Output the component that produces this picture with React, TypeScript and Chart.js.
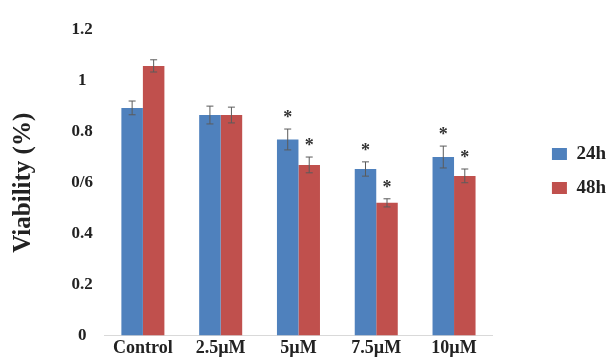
import React, { useEffect, useRef } from 'react';
import { Chart, registerables } from 'chart.js';

Chart.register(...registerables);

const FONT = '"Liberation Serif", "Times New Roman", serif';

const categories = ['Control', '2.5µM', '5µM', '7.5µM', '10µM'];
const seriesNames = ['24h', '48h'];
const values24h = [0.894, 0.866, 0.77, 0.654, 0.701];
const values48h = [1.059, 0.866, 0.67, 0.521, 0.627];
const errors24h = [0.027, 0.035, 0.041, 0.028, 0.043];
const errors48h = [0.024, 0.031, 0.031, 0.016, 0.027];
const significant24h = [false, false, true, true, true];
const significant48h = [false, false, true, true, true];
const yTickValues = [0, 0.2, 0.4, 0.6, 0.8, 1, 1.2];
const yTickLabels = ['0', '0.2', '0.4', '0/6', '0.8', '1', '1.2'];

const seriesColors = ['#4F81BD', '#C0504D'];
const errorSets = [errors24h, errors48h];
const sigSets = [significant24h, significant48h];

const errorBarPlugin = {
  id: 'errorBars',
  afterDatasetsDraw(chart: any) {
    const ctx = chart.ctx;
    const yScale = chart.scales.y;
    chart.data.datasets.forEach((ds: any, di: number) => {
      const meta = chart.getDatasetMeta(di);
      meta.data.forEach((bar: any, i: number) => {
        const v = ds.data[i] as number;
        const e = errorSets[di][i];
        const x = bar.x;
        const yTop = yScale.getPixelForValue(v + e);
        const yBot = yScale.getPixelForValue(v - e);
        ctx.save();
        ctx.strokeStyle = '#5b5b5b';
        ctx.lineWidth = 1;
        ctx.beginPath();
        ctx.moveTo(x, yTop);
        ctx.lineTo(x, yBot);
        ctx.moveTo(x - 3.5, yTop);
        ctx.lineTo(x + 3.5, yTop);
        ctx.moveTo(x - 3.5, yBot);
        ctx.lineTo(x + 3.5, yBot);
        ctx.stroke();
        if (sigSets[di][i]) {
          ctx.fillStyle = '#333333';
          ctx.font = `bold 18px ${FONT}`;
          ctx.textAlign = 'center';
          ctx.textBaseline = 'alphabetic';
          ctx.fillText('*', x, yTop - 6);
        }
        ctx.restore();
      });
    });
  },
};

export default function App() {
  const canvasRef = useRef<HTMLCanvasElement | null>(null);

  useEffect(() => {
    if (!canvasRef.current) return;
    const chart = new Chart(canvasRef.current, {
      type: 'bar',
      data: {
        labels: categories,
        datasets: [
          {
            label: seriesNames[0],
            data: values24h,
            backgroundColor: seriesColors[0],
            borderWidth: 0,
            yAxisID: 'y',
            barPercentage: 1,
            categoryPercentage: 0.553,
          },
          {
            label: seriesNames[1],
            data: values48h,
            backgroundColor: seriesColors[1],
            borderWidth: 0,
            yAxisID: 'y',
            barPercentage: 1,
            categoryPercentage: 0.553,
          },
        ],
      },
      options: {
        animation: false,
        responsive: true,
        maintainAspectRatio: false,
        layout: { padding: { top: 30, right: -10, bottom: 0, left: 0 } },
        plugins: {
          tooltip: { enabled: false },
          legend: {
            position: 'right',
            align: 'start',
            title: {
              display: true,
              text: ' ',
              font: { size: 10, family: FONT },
              padding: { top: 87.5, bottom: 0 },
            },
            labels: {
              boxWidth: 15,
              boxHeight: 12,
              padding: 15,
              color: '#222222',
              font: { family: FONT, size: 19, weight: 'bold' },
            },
          },
        },
        scales: {
          x: {
            grid: { display: false, drawTicks: false },
            border: { display: true, color: '#d9d9d9', width: 1 },
            ticks: {
              padding: 2,
              autoSkip: false,
              maxRotation: 0,
              color: '#222222',
              font: { family: FONT, size: 18, weight: 'bold' },
            },
            afterFit: (s: any) => {
              s.height = 26.5;
            },
          },
          y: {
            position: 'left',
            min: 0,
            max: 1.2,
            grid: { display: false, drawTicks: false },
            border: { display: false },
            ticks: {
              stepSize: 0.2,
              padding: 11,
              crossAlign: 'center',
              color: '#222222',
              font: { family: FONT, size: 17, weight: 'bold' },
              callback: (value: any) => {
                const idx = yTickValues.findIndex((t) => Math.abs(t - Number(value)) < 1e-6);
                return idx >= 0 ? yTickLabels[idx] : '';
              },
            },
            title: {
              display: true,
              text: 'Viability (%)',
              color: '#222222',
              font: { family: FONT, size: 25, weight: 'bold' },
              padding: { top: 9, bottom: 0 },
            },
            afterFit: (s: any) => {
              s.width = 104;
            },
          },
          yGap: {
            type: 'linear',
            position: 'right',
            display: true,
            grid: { display: false, drawTicks: false },
            border: { display: false },
            ticks: { display: false },
            title: { display: false },
            afterFit: (s: any) => {
              s.width = 44;
            },
          },
        },
      } as any,
      plugins: [errorBarPlugin],
    });
    return () => chart.destroy();
  }, []);

  return (
    <div style={{ position: 'absolute', left: 0, top: 0, width: 606, height: 362, background: '#ffffff' }}>
      <canvas ref={canvasRef} />
    </div>
  );
}
